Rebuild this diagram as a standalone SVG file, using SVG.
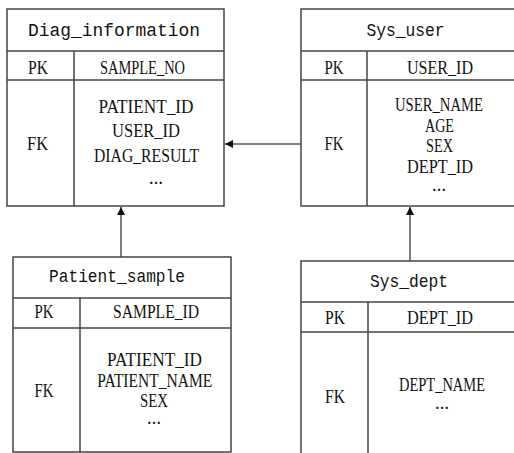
<svg xmlns="http://www.w3.org/2000/svg" width="514" height="453" viewBox="0 0 514 453">
<style>
.box{fill:#fff;stroke:#444;stroke-width:1.5}
.ln{stroke:#444;stroke-width:1.5;fill:none}
.t{font-family:"Liberation Serif",serif;font-size:19px;fill:#111;text-anchor:middle}
.h{font-family:"Liberation Mono",monospace;font-size:19px;fill:#111;text-anchor:middle}
.d{font-family:"Liberation Serif",serif;font-size:14px;font-weight:bold;fill:#111;text-anchor:middle}
.c{stroke:#555;stroke-width:1.5;fill:none}
</style>
<defs>
<marker id="ah" viewBox="0 0 10 10" refX="10" refY="5" markerWidth="8" markerHeight="8" markerUnits="userSpaceOnUse" orient="auto">
<path d="M0,0 L10,5 L0,10 z" fill="#111"/>
</marker>
</defs>
<rect width="514" height="453" fill="#fff"/>
<g id="connectors">
<line class="c" x1="301" y1="144" x2="225" y2="144" marker-end="url(#ah)"/>
<line class="c" x1="121" y1="257" x2="121" y2="207" marker-end="url(#ah)"/>
<line class="c" x1="410" y1="261" x2="410" y2="207" marker-end="url(#ah)"/>
</g>
<g id="diag_information">
<rect class="box" x="7" y="9" width="217" height="197"/>
<line class="ln" x1="7" y1="51" x2="224" y2="51"/>
<line class="ln" x1="7" y1="80" x2="224" y2="80"/>
<line class="ln" x1="74" y1="51" x2="74" y2="206"/>
<text class="h" x="114" y="36" textLength="172" lengthAdjust="spacingAndGlyphs">Diag_information</text>
<text class="t" x="38" y="74" textLength="20" lengthAdjust="spacingAndGlyphs">PK</text>
<text class="t" x="142.5" y="74" textLength="85" lengthAdjust="spacingAndGlyphs">SAMPLE_NO</text>
<text class="t" x="37.5" y="150" textLength="21" lengthAdjust="spacingAndGlyphs">FK</text>
<text class="t" x="146" y="113" textLength="95" lengthAdjust="spacingAndGlyphs">PATIENT_ID</text>
<text class="t" x="146" y="137" textLength="68" lengthAdjust="spacingAndGlyphs">USER_ID</text>
<text class="t" x="146.5" y="162" textLength="105" lengthAdjust="spacingAndGlyphs">DIAG_RESULT</text>
<text class="d" x="156" y="184">…</text>
</g>
<g id="sys_user">
<rect class="box" x="301" y="9" width="216" height="197"/>
<line class="ln" x1="301" y1="51" x2="514" y2="51"/>
<line class="ln" x1="301" y1="80" x2="514" y2="80"/>
<line class="ln" x1="367" y1="51" x2="367" y2="206"/>
<text class="h" x="405.5" y="36" textLength="78" lengthAdjust="spacingAndGlyphs">Sys_user</text>
<text class="t" x="334" y="74" textLength="19" lengthAdjust="spacingAndGlyphs">PK</text>
<text class="t" x="440" y="74" textLength="66" lengthAdjust="spacingAndGlyphs">USER_ID</text>
<text class="t" x="334" y="150" textLength="19" lengthAdjust="spacingAndGlyphs">FK</text>
<text class="t" x="439" y="111" textLength="88" lengthAdjust="spacingAndGlyphs">USER_NAME</text>
<text class="t" x="439.5" y="132" textLength="29" lengthAdjust="spacingAndGlyphs">AGE</text>
<text class="t" x="439.5" y="152" textLength="27" lengthAdjust="spacingAndGlyphs">SEX</text>
<text class="t" x="440" y="173" textLength="66" lengthAdjust="spacingAndGlyphs">DEPT_ID</text>
<text class="d" x="439" y="191">…</text>
</g>
<g id="patient_sample">
<rect class="box" x="13" y="257" width="218" height="195"/>
<line class="ln" x1="13" y1="298" x2="231" y2="298"/>
<line class="ln" x1="13" y1="328" x2="231" y2="328"/>
<line class="ln" x1="80" y1="298" x2="80" y2="452"/>
<text class="h" x="117" y="282" textLength="136" lengthAdjust="spacingAndGlyphs">Patient_sample</text>
<text class="t" x="44" y="318" textLength="19" lengthAdjust="spacingAndGlyphs">PK</text>
<text class="t" x="156" y="318" textLength="86" lengthAdjust="spacingAndGlyphs">SAMPLE_ID</text>
<text class="t" x="44" y="397" textLength="19" lengthAdjust="spacingAndGlyphs">FK</text>
<text class="t" x="154.5" y="366" textLength="95" lengthAdjust="spacingAndGlyphs">PATIENT_ID</text>
<text class="t" x="154.7" y="387" textLength="115" lengthAdjust="spacingAndGlyphs">PATIENT_NAME</text>
<text class="t" x="154" y="407" textLength="28" lengthAdjust="spacingAndGlyphs">SEX</text>
<text class="d" x="154" y="424">…</text>
</g>
<g id="sys_dept">
<rect class="box" x="301" y="261" width="216" height="196"/>
<line class="ln" x1="301" y1="302" x2="514" y2="302"/>
<line class="ln" x1="301" y1="332" x2="514" y2="332"/>
<line class="ln" x1="368" y1="302" x2="368" y2="453"/>
<text class="h" x="409" y="287" textLength="78" lengthAdjust="spacingAndGlyphs">Sys_dept</text>
<text class="t" x="335" y="324" textLength="20" lengthAdjust="spacingAndGlyphs">PK</text>
<text class="t" x="440" y="324" textLength="66" lengthAdjust="spacingAndGlyphs">DEPT_ID</text>
<text class="t" x="335" y="403" textLength="20" lengthAdjust="spacingAndGlyphs">FK</text>
<text class="t" x="442" y="391" textLength="86" lengthAdjust="spacingAndGlyphs">DEPT_NAME</text>
<text class="d" x="442" y="409">…</text>
</g>
</svg>
